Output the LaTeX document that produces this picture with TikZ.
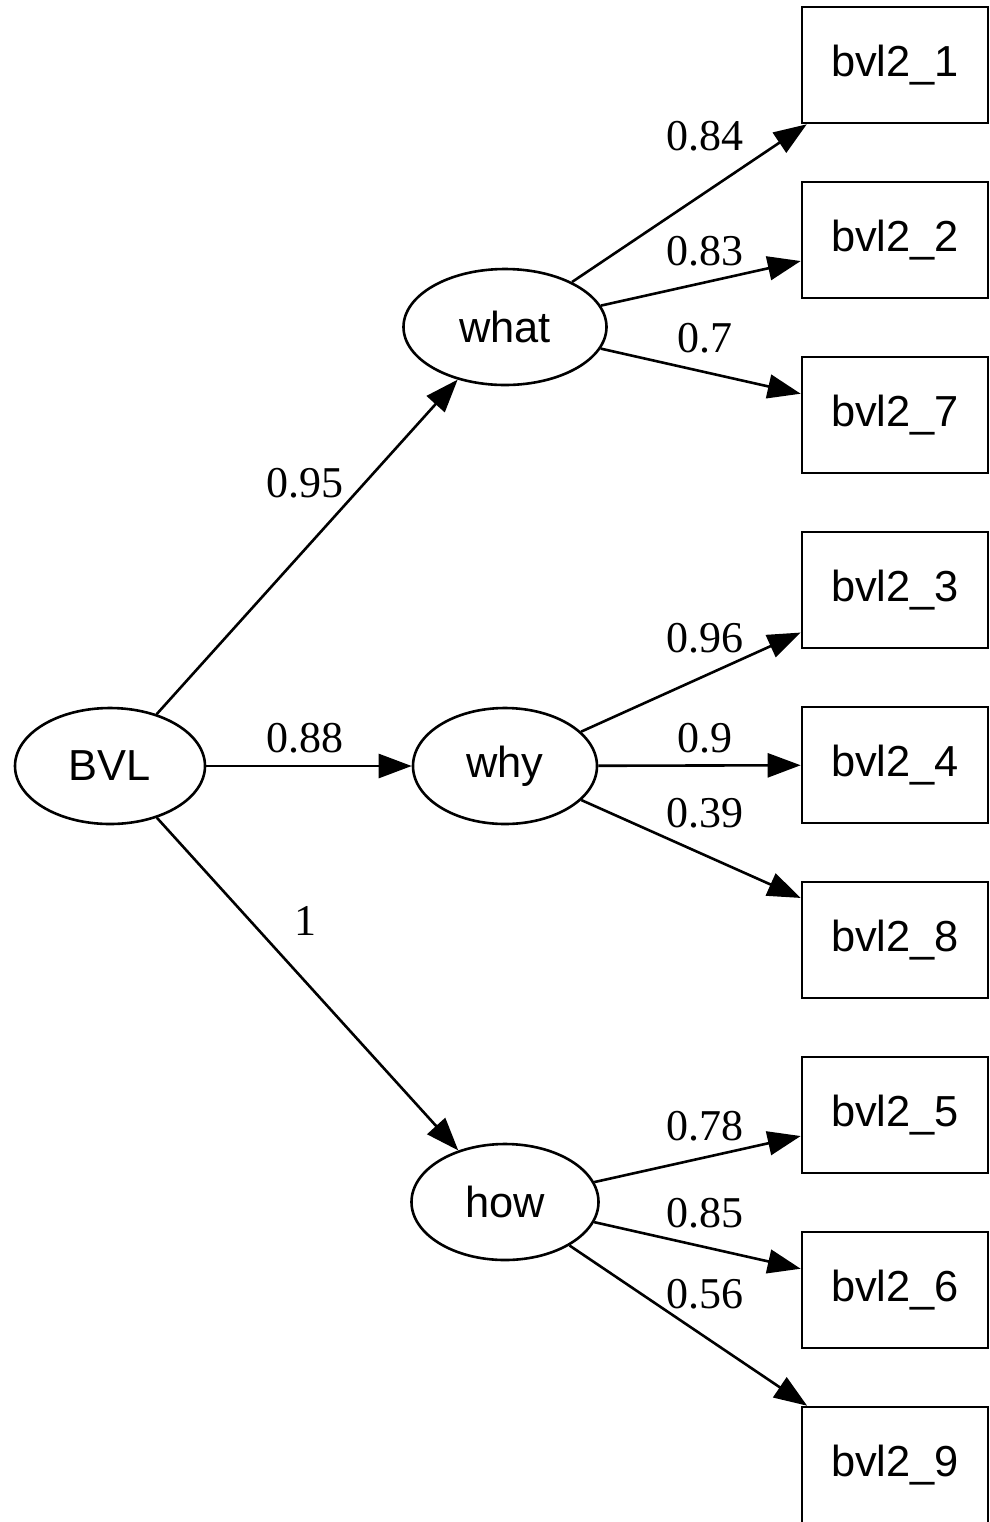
\documentclass[tikz,border=0pt]{standalone}
\usepackage{fontspec}
\setmainfont{Liberation Serif}
\newfontfamily\nodefont{Liberation Sans}
\usetikzlibrary{shapes.geometric,arrows.meta}
\begin{document}
\begin{tikzpicture}[x=0.5pt,y=-0.5pt,
  every node/.style={inner sep=0pt},
  lat/.style={ellipse,draw,line width=1.3pt,minimum height=58pt,font=\nodefont\fontsize{21.7pt}{24pt}\selectfont},
  obs/.style={rectangle,draw,line width=1.3pt,minimum width=93pt,minimum height=58pt,font=\nodefont\fontsize{21.7pt}{24pt}\selectfont},
  edge/.style={line width=1.3pt,-{Triangle[length=16.5pt,width=12pt]}},
  lbl/.style={anchor=base,font=\fontsize{22pt}{24pt}\selectfont}]
\useasboundingbox (0,0) rectangle (990,1522);
\clip (0,0) rectangle (990,1522);
% latent nodes
\node[lat,minimum width=95pt] (BVL) at (110,766) {BVL};
\node[lat,minimum width=101.5pt] (what) at (505,327) {what};
\node[lat,minimum width=92pt] (why) at (505,766) {why};
\node[lat,minimum width=93.5pt] (how) at (505,1202) {how};
% observed nodes
\node[obs] (b1) at (895,65) {bvl2\_1};
\node[obs] (b2) at (895,240) {bvl2\_2};
\node[obs] (b7) at (895,415) {bvl2\_7};
\node[obs] (b3) at (895,590) {bvl2\_3};
\node[obs] (b4) at (895,765) {bvl2\_4};
\node[obs] (b8) at (895,940) {bvl2\_8};
\node[obs] (b5) at (895,1115) {bvl2\_5};
\node[obs] (b6) at (895,1290) {bvl2\_6};
\node[obs] (b9) at (895,1465) {bvl2\_9};
% edges
\draw[edge] (BVL) -- (what) node[lbl] (l1) at (305,497) {0.95};
\draw[edge] (BVL) -- (why) node[lbl] (l2) at (305,752) {0.88};
\draw[edge] (BVL) -- (how) node[lbl] (l3) at (305,935) {1};
\draw[edge] (what) -- (b1) node[lbl] (l4) at (705,150) {0.84};
\draw[edge] (what) -- (b2) node[lbl] (l5) at (705,265) {0.83};
\draw[edge] (what) -- (b7) node[lbl] (l6) at (705,352) {0.7};
\draw[edge] (why) -- (b3) node[lbl] (l7) at (705,652) {0.96};
\draw[edge] (why) -- (b4) node[lbl] (l8) at (705,752) {0.9};
\draw[edge] (why) -- (b8) node[lbl] (l9) at (705,827) {0.39};
\draw[edge] (how) -- (b5) node[lbl] (l10) at (705,1140) {0.78};
\draw[edge] (how) -- (b6) node[lbl] (l11) at (705,1227) {0.85};
\draw[edge] (how) -- (b9) node[lbl] (l12) at (705,1308) {0.56};
\end{tikzpicture}
\end{document}
